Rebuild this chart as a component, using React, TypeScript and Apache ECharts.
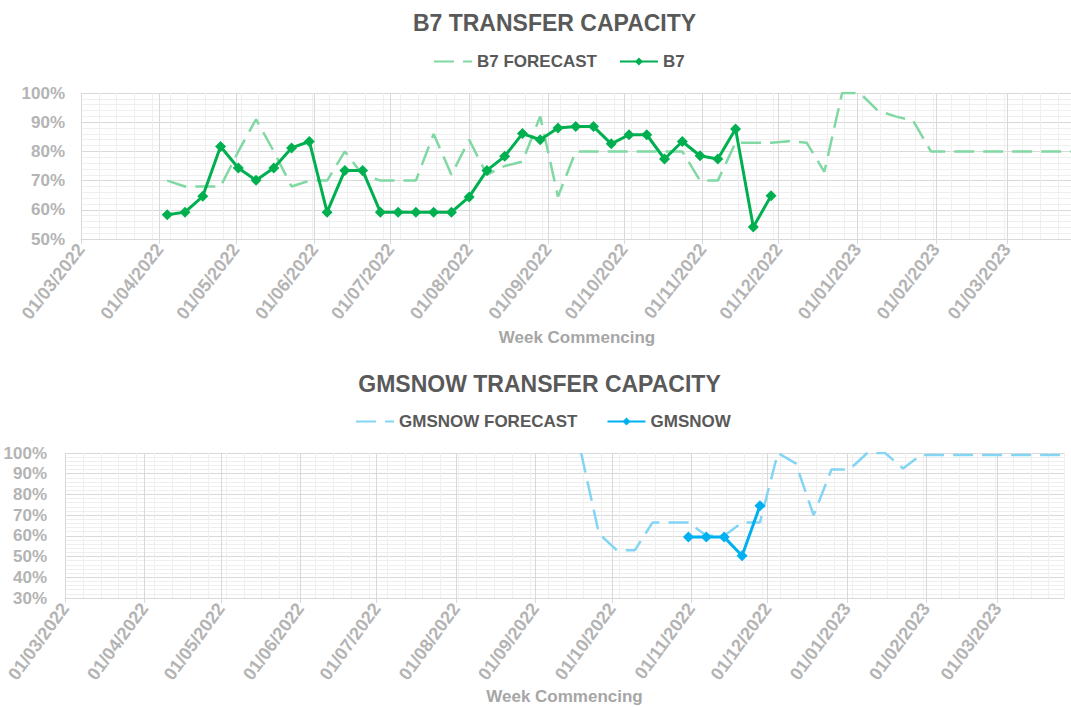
import React, { useEffect, useRef } from 'react';
import * as echarts from 'echarts';

// ---------- DATA ----------
const weekCommencing = [
  '04/04/2022', '11/04/2022', '18/04/2022', '25/04/2022',
  '02/05/2022', '09/05/2022', '16/05/2022', '23/05/2022', '30/05/2022',
  '06/06/2022', '13/06/2022', '20/06/2022', '27/06/2022',
  '04/07/2022', '11/07/2022', '18/07/2022', '25/07/2022',
  '01/08/2022', '08/08/2022', '15/08/2022', '22/08/2022', '29/08/2022',
  '05/09/2022', '12/09/2022', '19/09/2022', '26/09/2022',
  '03/10/2022', '10/10/2022', '17/10/2022', '24/10/2022', '31/10/2022',
  '07/11/2022', '14/11/2022', '21/11/2022', '28/11/2022',
  '05/12/2022', '12/12/2022', '19/12/2022', '26/12/2022',
  '02/01/2023', '09/01/2023', '16/01/2023', '23/01/2023', '30/01/2023',
  '06/02/2023', '13/02/2023', '20/02/2023', '27/02/2023',
  '06/03/2023', '13/03/2023', '20/03/2023', '27/03/2023',
];

const monthTicks = [
  '01/03/2022', '01/04/2022', '01/05/2022', '01/06/2022', '01/07/2022',
  '01/08/2022', '01/09/2022', '01/10/2022', '01/11/2022', '01/12/2022',
  '01/01/2023', '01/02/2023', '01/03/2023',
];
const axisStart = '01/03/2022';
const axisEnd = '27/03/2023';

const b7Forecast = [
  70, 68, 68, 68, 80, 91, 80, 68, 70, 70,
  80, 72, 70, 70, 70, 86, 72, 84, 72, 75,
  76.5, 92, 64.5, 80, 80, 80, 80, 80, 80, 80,
  70, 70, 83, 83, 83, 83.5, 83, 73, 100, 100,
  94, 92, 90.5, 80, 80, 80, 80, 80, 80, 80, 80, 80,
];
const b7ForecastStart = 0;

const b7Actual = [
  58.3, 59.2, 64.6, 81.7, 74.3, 70.1, 74.3, 81.2, 83.4, 59.2,
  73.5, 73.5, 59.2, 59.2, 59.2, 59.2, 59.2, 64.4, 73.5, 78.3,
  86.1, 84, 88, 88.5, 88.5, 82.6, 85.7, 85.7, 77.4, 83.4,
  78.5, 77.4, 87.7, 54.1, 64.8,
];
const b7ActualStart = 0;

const gmsnowForecast = [
  100, 61, 53, 53, 66.5, 66.5, 66.5, 60, 60, 66.5,
  66.5, 100, 95, 70, 92, 92, 100, 100, 92.5, 99,
  99, 99, 99, 99, 99, 99, 99, 99,
];
const gmsnowForecastStart = 24;

const gmsnowActual = [59.4, 59.4, 59.4, 50.4, 74.5];
const gmsnowActualStart = 30;

const b7YRange = [50, 100];
const gmsnowYRange = [30, 100];

// ---------- HELPERS ----------
const DAY = 86400000;
const parse = (s: string) => {
  const [d, m, y] = s.split('/').map(Number);
  return Date.UTC(y, m - 1, d);
};
const ORIGIN = parse(axisStart);
const toDay = (s: string) => Math.round((parse(s) - ORIGIN) / DAY);
const pad = (n: number) => (n < 10 ? '0' + n : '' + n);
const fmtDay = (v: number) => {
  const t = new Date(ORIGIN + v * DAY);
  return `${pad(t.getUTCDate())}/${pad(t.getUTCMonth() + 1)}/${t.getUTCFullYear()}`;
};
const pairs = (vals: number[], start: number) =>
  vals.map((v, i) => [toDay(weekCommencing[start + i]), v]);

const FONT = "'Liberation Sans', Arial, Helvetica, sans-serif";
const GRID_LINE = '#d9d9d9';
const MINOR_LINE = '#efefef';
const LABEL = '#b4b4b4';
const TITLE = '#595959';

export default function App() {
  const ref = useRef<HTMLDivElement>(null);

  useEffect(() => {
    if (!ref.current) return;
    const chart = echarts.init(ref.current, undefined, { renderer: 'svg' });
    const monthDays = monthTicks.map(toDay);
    const xMin = 0;
    const xMax = toDay(axisEnd);

    const makeX = (gridIndex: number, rotate: number) => [
      {
        type: 'value',
        gridIndex,
        min: xMin,
        max: xMax,
        interval: 7,
        axisLine: { show: false },
        axisTick: { show: false },
        axisLabel: { show: false },
        splitLine: { show: true, lineStyle: { color: MINOR_LINE, width: 1 } },
      },
      {
        type: 'value',
        gridIndex,
        min: xMin,
        max: xMax,
        position: 'bottom',
        axisLine: { show: true, onZero: false, lineStyle: { color: GRID_LINE, width: 1 } },
        axisTick: {
          show: true,
          length: 5,
          customValues: monthDays,
          lineStyle: { color: GRID_LINE },
        },
        axisLabel: {
          show: true,
          customValues: monthDays,
          rotate,
          margin: 7,
          color: LABEL,
          fontSize: 18,
          fontWeight: 'bold',
          fontFamily: FONT,
          formatter: (v: number) => fmtDay(v),
        },
        splitLine: { show: true, lineStyle: { color: GRID_LINE, width: 1 } },
        name: 'Week Commencing',
        nameLocation: 'middle',
        nameGap: 90,
        nameMoveOverlap: false,
        nameTextStyle: {
          color: '#a6a6a6',
          fontSize: 17,
          fontWeight: 'bold',
          fontFamily: FONT,
        },
      },
    ];

    const makeY = (gridIndex: number, range: number[], margin: number) => ({
      type: 'value',
      gridIndex,
      min: range[0],
      max: range[1],
      interval: 10,
      axisLine: { show: false },
      axisTick: { show: false },
      axisLabel: {
        formatter: '{value}%',
        color: LABEL,
        fontSize: 17,
        fontWeight: 'bold',
        fontFamily: FONT,
        margin,
      },
      splitLine: { show: true, lineStyle: { color: GRID_LINE, width: 1 } },
      minorTick: { show: false, splitNumber: 5 },
      minorSplitLine: { show: true, lineStyle: { color: MINOR_LINE, width: 1 } },
    });

    const forecastLine = (name: string, color: string, data: number[][], idx: number) => ({
      name,
      type: 'line',
      xAxisIndex: idx * 2,
      yAxisIndex: idx,
      data,
      symbol: 'none',
      showSymbol: false,
      lineStyle: { color, width: 2.5, type: [20, 9] },
      itemStyle: { color },
      z: 2,
    });
    const actualLine = (name: string, color: string, data: number[][], idx: number) => ({
      name,
      type: 'line',
      xAxisIndex: idx * 2,
      yAxisIndex: idx,
      data,
      symbol: 'diamond',
      symbolSize: 11,
      lineStyle: { color, width: 3 },
      itemStyle: { color },
      z: 3,
    });

    const legendCommon = {
      orient: 'horizontal',
      padding: 0,
      itemWidth: 38,
      itemHeight: 10,
      textStyle: { color: TITLE, fontSize: 17, fontWeight: 'bold', fontFamily: FONT },
    };

    const option: any = {
      animation: false,
      textStyle: { fontFamily: FONT },
      graphic: [
        {
          type: 'text',
          x: 554.5,
          y: 23,
          style: {
            text: 'B7 TRANSFER CAPACITY',
            fill: TITLE,
            font: `bold 23px ${FONT}`,
            align: 'center',
            verticalAlign: 'middle',
            textAlign: 'center',
            textVerticalAlign: 'middle',
          },
        },
        {
          type: 'text',
          x: 539.5,
          y: 384,
          style: {
            text: 'GMSNOW TRANSFER CAPACITY',
            fill: TITLE,
            font: `bold 23px ${FONT}`,
            align: 'center',
            verticalAlign: 'middle',
            textAlign: 'center',
            textVerticalAlign: 'middle',
          },
        },
      ],
      legend: [
        {
          ...legendCommon,
          left: 433,
          top: 53,
          itemGap: 22,
          data: [
            { name: 'B7 FORECAST', itemStyle: { opacity: 0 } },
            { name: 'B7' },
          ],
        },
        {
          ...legendCommon,
          left: 355,
          top: 413,
          itemGap: 29,
          data: [
            { name: 'GMSNOW FORECAST', itemStyle: { opacity: 0 } },
            { name: 'GMSNOW' },
          ],
        },
      ],
      grid: [
        { left: 81, top: 93, width: 992, height: 146, outerBoundsMode: 'none', containLabel: false },
        { left: 65, top: 453, width: 999, height: 145, outerBoundsMode: 'none', containLabel: false },
      ],
      xAxis: [...makeX(0, 52), ...makeX(1, 54)],
      yAxis: [makeY(0, b7YRange, 16), makeY(1, gmsnowYRange, 18)],
      series: [
        forecastLine('B7 FORECAST', '#80d8a2', pairs(b7Forecast, b7ForecastStart), 0),
        actualLine('B7', '#00b050', pairs(b7Actual, b7ActualStart), 0),
        forecastLine('GMSNOW FORECAST', '#84d5f3', pairs(gmsnowForecast, gmsnowForecastStart), 1),
        actualLine('GMSNOW', '#00b0f0', pairs(gmsnowActual, gmsnowActualStart), 1),
      ],
    };

    chart.setOption(option);
    return () => chart.dispose();
  }, []);

  return (
    <div
      ref={ref}
      style={{ position: 'absolute', left: 0, top: 0, width: 1071, height: 707, background: '#ffffff' }}
    />
  );
}
